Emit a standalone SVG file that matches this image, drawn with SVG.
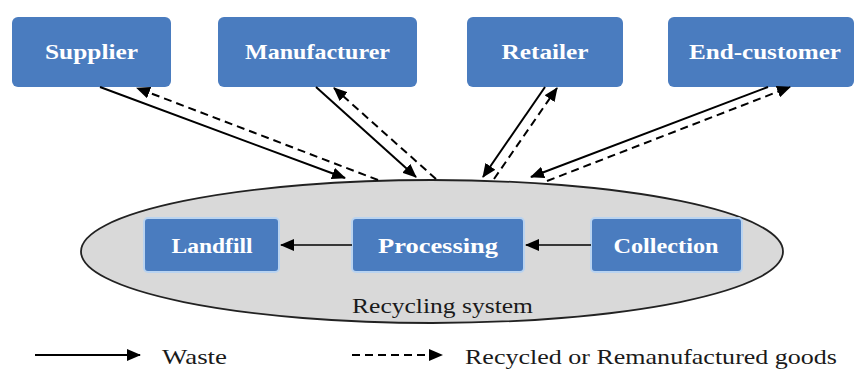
<svg xmlns="http://www.w3.org/2000/svg" width="854" height="371" viewBox="0 0 854 371">
<style>
.box{fill:#4a7cbf;}
.ibox{fill:#4a7cbf;stroke:#b9d3f0;stroke-width:2;}
.bt{font-family:"Liberation Serif","DejaVu Serif",serif;font-weight:bold;font-size:22px;fill:#ffffff;text-anchor:middle;}
.lt{font-family:"Liberation Serif","DejaVu Serif",serif;font-size:21px;fill:#1a1a1a;}
.solid{stroke:#000;stroke-width:2;fill:none;}
.dash{stroke:#000;stroke-width:2;fill:none;stroke-dasharray:8,5;}
.thin{stroke:#000;stroke-width:1.5;fill:none;}
</style>
<defs>
<marker id="ah" markerUnits="userSpaceOnUse" markerWidth="14" markerHeight="12" refX="13" refY="6" orient="auto">
<path d="M0,0 L14,6 L0,12 Z" fill="#000"/>
</marker>
</defs>
<rect width="854" height="371" fill="#ffffff"/>
<g id="recycling-system">
<ellipse cx="432" cy="251.5" rx="351" ry="71.5" fill="#d9d9d9" stroke="#222" stroke-width="1.8"/>
<text class="lt" x="352" y="313" textLength="181" lengthAdjust="spacingAndGlyphs">Recycling system</text>
</g>
<g id="supplier">
<rect class="box" x="12" y="17" width="159" height="70" rx="6"/>
<text class="bt" x="91.5" y="59" textLength="93" lengthAdjust="spacingAndGlyphs">Supplier</text>
</g>
<g id="manufacturer">
<rect class="box" x="218" y="17" width="199" height="70" rx="6"/>
<text class="bt" x="317.5" y="59" textLength="145" lengthAdjust="spacingAndGlyphs">Manufacturer</text>
</g>
<g id="retailer">
<rect class="box" x="467" y="17" width="156" height="70" rx="6"/>
<text class="bt" x="545" y="59" textLength="87" lengthAdjust="spacingAndGlyphs">Retailer</text>
</g>
<g id="end-customer">
<rect class="box" x="668" y="17" width="186" height="70" rx="6"/>
<text class="bt" x="765" y="59" textLength="152" lengthAdjust="spacingAndGlyphs">End-customer</text>
</g>
<g id="landfill">
<rect class="ibox" x="144" y="218" width="135" height="54" rx="4"/>
<text class="bt" x="212" y="253" textLength="81" lengthAdjust="spacingAndGlyphs">Landfill</text>
</g>
<g id="processing">
<rect class="ibox" x="352" y="218" width="172" height="54" rx="4"/>
<text class="bt" x="438" y="253" textLength="120" lengthAdjust="spacingAndGlyphs">Processing</text>
</g>
<g id="collection">
<rect class="ibox" x="591" y="218" width="151" height="54" rx="4"/>
<text class="bt" x="666" y="253" textLength="105" lengthAdjust="spacingAndGlyphs">Collection</text>
</g>
<g id="connectors">
<line class="solid" x1="100" y1="87" x2="345" y2="178" marker-end="url(#ah)"/>
<line class="dash" x1="378" y1="180" x2="137" y2="88" marker-end="url(#ah)"/>
<line class="solid" x1="316" y1="87" x2="416" y2="177" marker-end="url(#ah)"/>
<line class="dash" x1="436" y1="179" x2="334" y2="88" marker-end="url(#ah)"/>
<line class="solid" x1="545" y1="87" x2="483" y2="177" marker-end="url(#ah)"/>
<line class="dash" x1="494" y1="179" x2="557" y2="88" marker-end="url(#ah)"/>
<line class="solid" x1="768" y1="87" x2="531" y2="177" marker-end="url(#ah)"/>
<line class="dash" x1="547" y1="181" x2="790" y2="87" marker-end="url(#ah)"/>
<line class="thin" x1="352" y1="245" x2="281" y2="245" marker-end="url(#ah)"/>
<line class="thin" x1="591" y1="245" x2="526" y2="245" marker-end="url(#ah)"/>
</g>
<g id="legend">
<line class="solid" x1="35" y1="355" x2="140" y2="355" marker-end="url(#ah)"/>
<text class="lt" x="162" y="364" textLength="65" lengthAdjust="spacingAndGlyphs">Waste</text>
<line class="dash" x1="352" y1="355" x2="442" y2="355" stroke-dasharray="7,5" marker-end="url(#ah)"/>
<text class="lt" x="465" y="364" textLength="372" lengthAdjust="spacingAndGlyphs">Recycled or Remanufactured goods</text>
</g>
</svg>
